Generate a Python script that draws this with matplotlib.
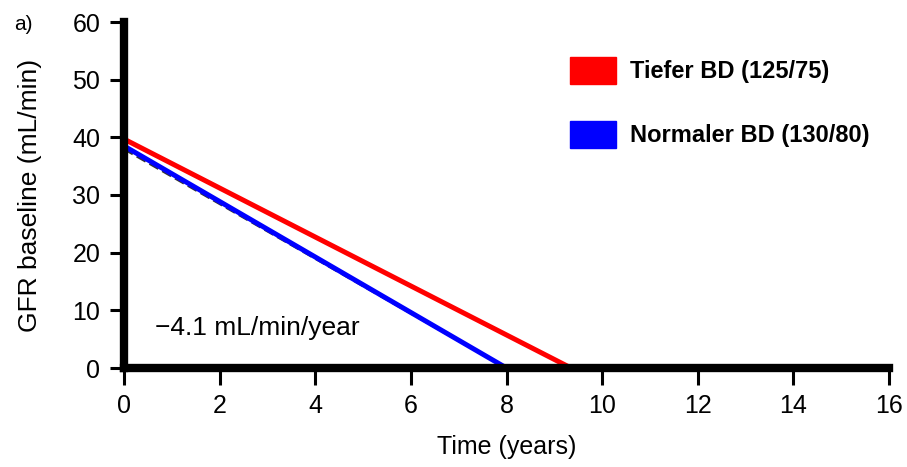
import matplotlib.pyplot as plt
from matplotlib.patches import Patch

plt.rcParams['font.family'] = ['Liberation Sans', 'DejaVu Sans']

# GFR decline
low_t = [0, 9.35]
low_gfr = [39.7, 0]
norm_t = [0, 8.0]
norm_gfr = [38.5, 0]

labels = ["Tiefer BD (125/75)", "Normaler BD (130/80)"]
colors = ["#ff0000", "#0000ff"]

fig = plt.figure(figsize=(9.07, 4.67), dpi=100)
ax = fig.add_axes([124 / 907, 1 - 368 / 467, (889 - 124) / 907, (368 - 22) / 467])

# faint dark dashed line under the blue one (original scan)
ax.plot([0, 8.0], [38.0, 0], color="#333333", lw=2, ls="--", zorder=2)
ax.plot(norm_t, norm_gfr, color=colors[1], lw=3.6, zorder=3, solid_capstyle="butt")
ax.plot(low_t, low_gfr, color=colors[0], lw=3.6, zorder=3, solid_capstyle="butt")

ax.set_xlim(0, 16)
ax.set_ylim(0, 60)
ax.set_xticks(range(0, 17, 2))
ax.set_yticks(range(0, 61, 10))

for s in ["top", "right"]:
    ax.spines[s].set_visible(False)
for s in ["left", "bottom"]:
    ax.spines[s].set_linewidth(6)
    ax.spines[s].set_zorder(4)
    ax.spines[s].set_capstyle("projecting")
ax.tick_params(axis="both", direction="out", width=2.2, labelsize=18)
ax.tick_params(axis="x", length=12, pad=7)
ax.tick_params(axis="y", length=10, pad=7)

ax.set_xlabel("Time (years)", fontsize=18, labelpad=12)
ax.set_ylabel("GFR baseline (mL/min)", fontsize=19, labelpad=22)

ax.text(0.65, 6.9, "\u22124.1 mL/min/year", fontsize=19, va="center")
fig.text(14 / 907, 1 - 24 / 467, "a)", fontsize=15, va="center")

handles = [Patch(facecolor=c, edgecolor=c) for c in colors]
leg = fig.legend(handles, labels, loc="upper left", bbox_to_anchor=(570 / 907, 1 - 57 / 467),
                 frameon=False, borderpad=0, borderaxespad=0,
                 handlelength=1.95, handleheight=1.35,
                 labelspacing=1.6, handletextpad=0.6,
                 prop={"weight": "bold", "size": 17})

fig.savefig("out.png", dpi=100)
